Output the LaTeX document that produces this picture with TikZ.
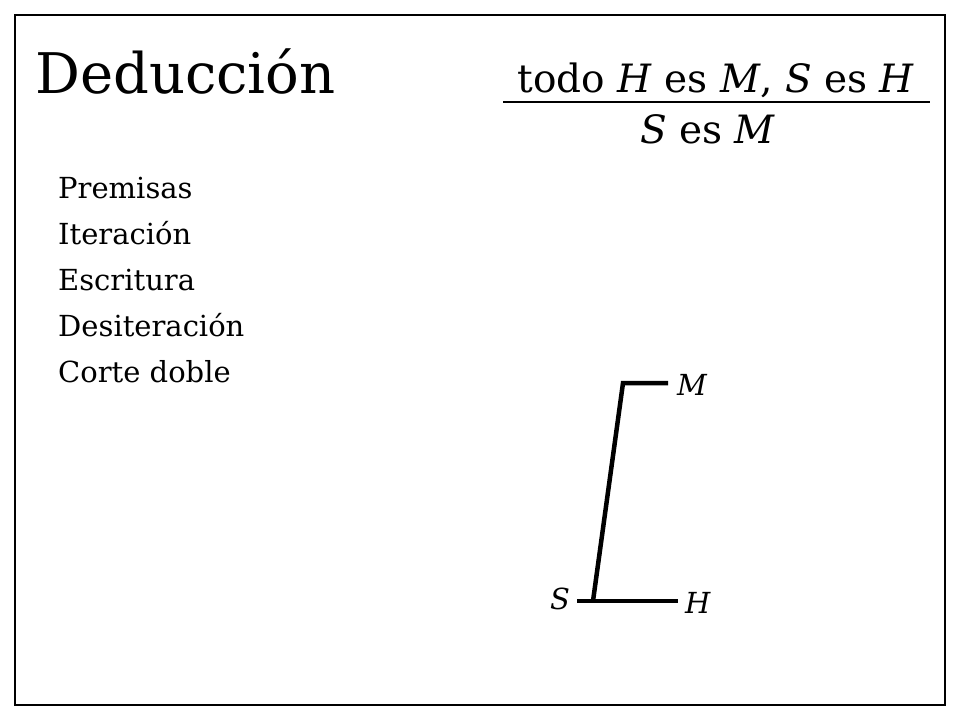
\documentclass[tikz,border=0pt]{standalone}
\usepackage{fontspec}
\setmainfont{DejaVu Serif}
\usetikzlibrary{positioning}

\begin{document}
\begin{tikzpicture}[x=1pt, y=-1pt,
    big/.style={font=\fontsize{56}{62}\selectfont, inner sep=0},
    rule/.style={font=\fontsize{39}{44}\selectfont, inner sep=0},
    item/.style={font=\fontsize{29}{34}\selectfont, inner sep=0, anchor=base west},
    var/.style={font=\fontsize{29}{34}\selectfont\itshape, inner sep=0},
    bar/.style={line width=4.5pt}]
    \useasboundingbox (0,0) rectangle (960,720);
    % frame
    \draw [line width=1.5pt] (15,15) rectangle (945,705);
    % title and rule
    \node [big, anchor=base west] (title) at (35,93) {Deducción};
    \node [rule, anchor=base] (premise) at (716,92) {todo \textit{H} es \textit{M}, \textit{S} es \textit{H}};
    \node [rule, anchor=base] (conclusion) at (708,143) {\textit{S} es \textit{M}};
    \coordinate (lineL) at (503,102);
    \coordinate (lineR) at (930,102);
    \draw [line width=2.5pt] (lineL) -- (lineR);
    % steps
    \foreach \name [count=\i] in {Premisas, Iteración, Escritura, Desiteración, Corte doble}
        \node [item] (step\i) at (58, {198+46*(\i-1)}) {\name};
    % graph
    \coordinate (topR) at (668,383);
    \coordinate (topL) at (623,383);
    \coordinate (botS) at (593,601);
    \coordinate (botL) at (577,601);
    \coordinate (botR) at (678,601);
    \draw [bar, line join=miter] (topR) -- (topL) -- (botS);
    \draw [bar] (botL) -- (botR);
    \node [var, anchor=west] (M) at (677,385) {M};
    \node [var] (S) at (560,599) {S};
    \node [var, anchor=west] (H) at (685,603) {H};
\end{tikzpicture}
\end{document}
